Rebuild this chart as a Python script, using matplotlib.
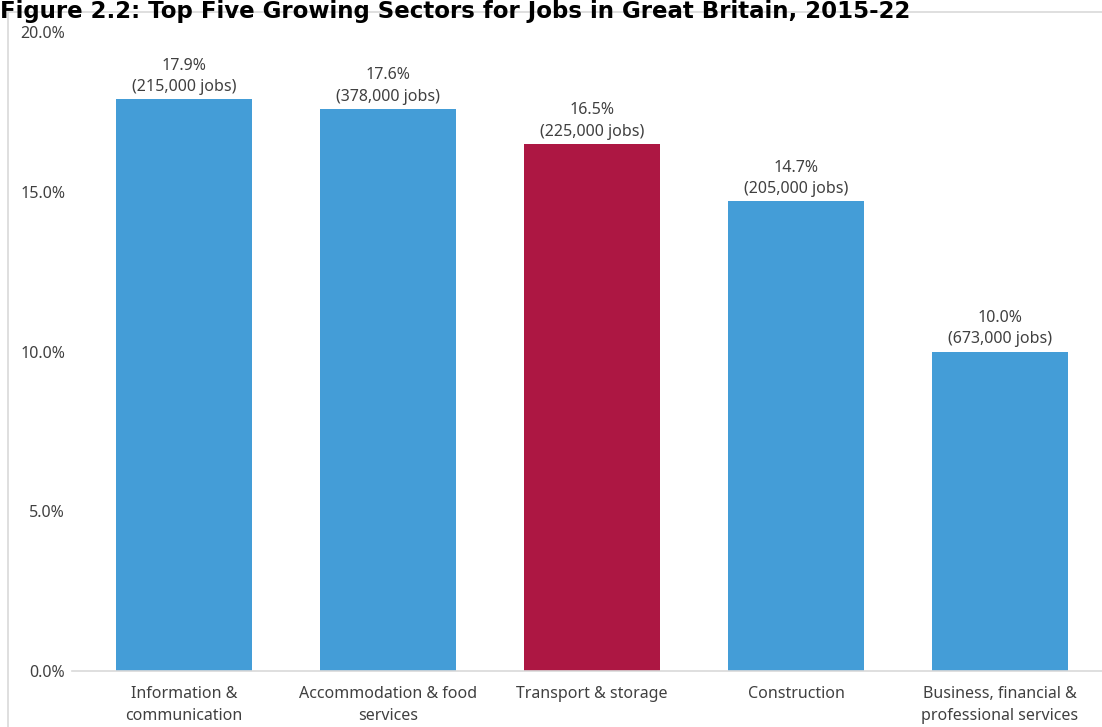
import matplotlib.pyplot as plt
from matplotlib.patches import Rectangle

sectors = ['Information &\ncommunication', 'Accommodation & food\nservices',
           'Transport & storage', 'Construction',
           'Business, financial &\nprofessional services']
growth = [17.9, 17.6, 16.5, 14.7, 10.0]
jobs = ['215,000', '378,000', '225,000', '205,000', '673,000']
highlight = 'Transport & storage'
y_ticks = [0, 5, 10, 15, 20]

blue = '#449DD7'
red = '#AD1743'
text_col = '#404040'

plt.rcParams['font.family'] = ['Noto Sans', 'DejaVu Sans']

fig = plt.figure(figsize=(11.02, 7.27), dpi=100)

# light frame around the chart area
fig.patches.append(Rectangle((8 / 1102, -0.1), 1.1, 1 - 12 / 727 + 0.1,
                             transform=fig.transFigure, fill=False,
                             edgecolor='#d9d9d9', linewidth=1.2))

fig.text(0.0, 1.0, 'Figure 2.2: Top Five Growing Sectors for Jobs in Great Britain, 2015-22',
         fontsize=16.5, fontweight='bold', family='DejaVu Sans', ha='left', va='top')

ax = fig.add_axes([72 / 1102, 56 / 727, 1 - 72 / 1102, (671 - 32) / 727])

colors = [red if s == highlight else blue for s in sectors]
x = list(range(len(sectors)))
bars = ax.bar(x, growth, width=0.667, color=colors)

for b, g, j in zip(bars, growth, jobs):
    ax.annotate(f'{g:.1f}%\n({j} jobs)', (b.get_x() + b.get_width() / 2, g),
                xytext=(0, 3), textcoords='offset points', ha='center', va='bottom',
                fontsize=11.5, color=text_col, linespacing=1.45)

ax.set_xlim(-0.55, 4.5)
ax.set_ylim(0, 20)
ax.set_yticks(y_ticks)
ax.set_yticklabels([f'{t:.1f}%' for t in y_ticks])
ax.set_xticks(x)
ax.set_xticklabels(sectors, linespacing=1.45)
ax.tick_params(axis='both', length=0, colors=text_col, labelsize=11.5)
ax.tick_params(axis='y', pad=5)
ax.tick_params(axis='x', pad=11)

for side in ['top', 'right', 'left']:
    ax.spines[side].set_visible(False)
ax.spines['bottom'].set_color('#d9d9d9')
ax.spines['bottom'].set_linewidth(1.2)

plt.savefig('out.png', dpi=100)
